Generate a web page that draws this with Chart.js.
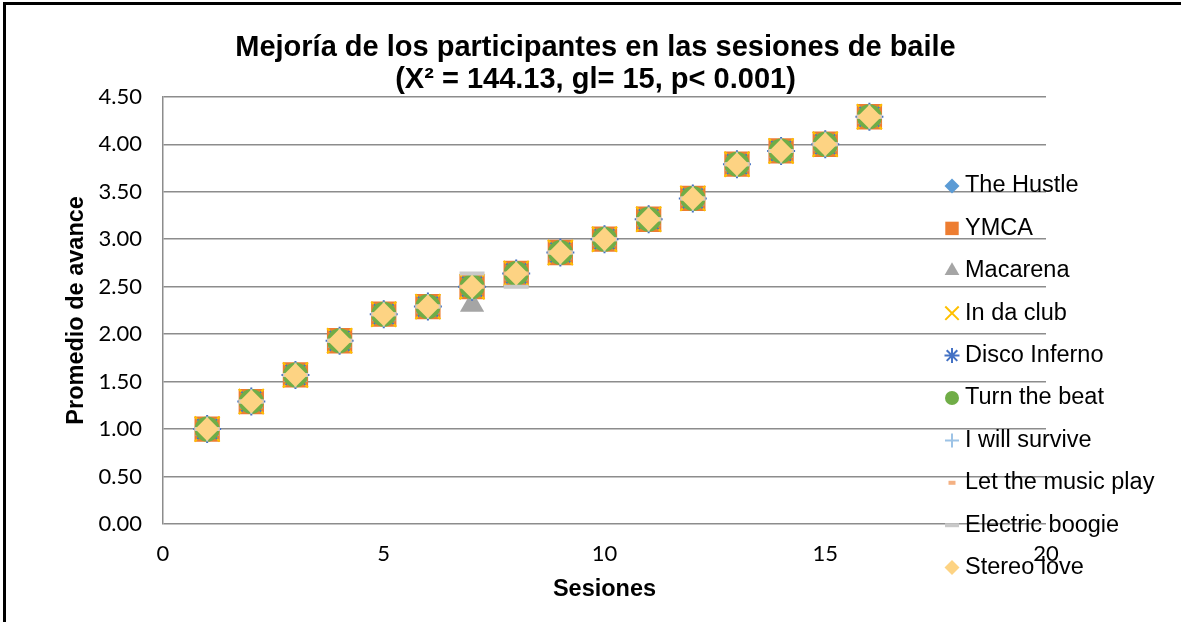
<!DOCTYPE html>
<html>
<head>
<meta charset="utf-8">
<script src="https://cdn.jsdelivr.net/npm/chart.js@4.4.0/dist/chart.umd.min.js"></script>
<style>
  html, body { margin: 0; padding: 0; background: #fff; overflow: hidden; }
  #wrap { position: relative; width: 1181px; height: 622px; }
  #frame {
    position: absolute; left: 3px; top: 2px; width: 1178px; height: 620px;
    border-left: 3px solid #000; border-top: 3px solid #000;
    pointer-events: none;
  }
</style>
</head>
<body>
<div id="wrap">
  <canvas id="chart" width="1181" height="622"></canvas>
  <div id="frame"></div>
</div>
<script>
'use strict'

// sessions (x) and the average progress of each song (y)
const sessions = [1, 2, 3, 4, 5, 6, 7, 8, 9, 10, 11, 12, 13, 14, 15, 16]

const theHustle       = [1.00, 1.29, 1.57, 1.93, 2.21, 2.29, 2.50, 2.64, 2.86, 3.00, 3.21, 3.43, 3.79, 3.93, 4.00, 4.29]
const ymca            = [1.00, 1.29, 1.57, 1.93, 2.21, 2.29, 2.50, 2.64, 2.86, 3.00, 3.21, 3.43, 3.79, 3.93, 4.00, 4.29]
const macarena        = [1.00, 1.29, 1.57, 1.93, 2.21, 2.29, 2.31, 2.64, 2.86, 3.00, 3.21, 3.43, 3.79, 3.93, 4.00, 4.29]
const inDaClub        = [1.00, 1.29, 1.57, 1.93, 2.21, 2.29, 2.50, 2.64, 2.86, 3.00, 3.21, 3.43, 3.79, 3.93, 4.00, 4.29]
const discoInferno    = [1.00, 1.29, 1.57, 1.93, 2.21, 2.29, 2.50, 2.64, 2.86, 3.00, 3.21, 3.43, 3.79, 3.93, 4.00, 4.29]
const turnTheBeat     = [1.00, 1.29, 1.57, 1.93, 2.21, 2.29, 2.50, 2.64, 2.86, 3.00, 3.21, 3.43, 3.79, 3.93, 4.00, 4.29]
const iWillSurvive    = [1.00, 1.29, 1.57, 1.93, 2.21, 2.29, 2.50, 2.64, 2.86, 3.00, 3.21, 3.43, 3.79, 3.93, 4.00, 4.29]
const letTheMusicPlay = [1.00, 1.29, 1.57, 1.93, 2.21, 2.29, 2.50, 2.64, 2.86, 3.00, 3.21, 3.43, 3.79, 3.93, 4.00, 4.29]
const electricBoogie  = [1.00, 1.29, 1.57, 1.93, 2.21, 2.29, 2.64, 2.50, 2.86, 3.00, 3.21, 3.43, 3.79, 3.93, 4.00, 4.29]
const stereoLove      = [1.00, 1.29, 1.57, 1.93, 2.21, 2.29, 2.50, 2.64, 2.86, 3.00, 3.21, 3.43, 3.79, 3.93, 4.00, 4.29]

const seriesNames = ['The Hustle', 'YMCA', 'Macarena', 'In da club', 'Disco Inferno',
  'Turn the beat', 'I will survive', 'Let the music play', 'Electric boogie', 'Stereo love']
const seriesValues = [theHustle, ymca, macarena, inDaClub, discoInferno,
  turnTheBeat, iWillSurvive, letTheMusicPlay, electricBoogie, stereoLove]

const titleLines = ['Mejoría de los participantes en las sesiones de baile', '(X² = 144.13, gl= 15, p< 0.001)']
const xTitle = 'Sesiones'
const yTitle = 'Promedio de avance'

// marker look per series: shape, colour, plot radius, legend radius, line width
const markers = [
  { shape: 'rectRot',  color: '#5B9BD5', r: 12,   lr: 7.5, w: 0 },
  { shape: 'rect',     color: '#ED7D31', r: 17.9, lr: 9.5, w: 0 },
  { shape: 'triangle', color: '#A5A5A5', r: 14,   lr: 8.5, w: 0 },
  { shape: 'crossRot', color: '#FFC000', r: 17.7, lr: 9.5, w: 2 },
  { shape: 'star',     color: '#4472C4', r: 14,   lr: 7.5, w: 2 },
  { shape: 'circle',   color: '#70AD47', r: 12.5, lr: 7,   w: 0 },
  { shape: 'cross',    color: '#9DC3E6', r: 12.5, lr: 7,   w: 2 },
  { shape: 'line',     color: '#F4B183', r: 12.5, lr: 3.5, w: 4 },
  { shape: 'line',     color: '#C9C9C9', r: 12.5, lr: 7,   w: 4 },
  { shape: 'rectRot',  color: '#FDD383', r: 12,   lr: 7.5, w: 0 }
]

const gridGrey = '#8c8c8c'
const textFont = '"Liberation Sans", Arial, sans-serif'
const tickFont = 'Lato, "Liberation Sans", sans-serif'

const datasets = seriesNames.map((name, i) => ({
  label: name,
  data: seriesValues[i].map((v, j) => ({ x: sessions[j], y: v })),
  pointStyle: markers[i].shape,
  pointRadius: markers[i].r,
  pointBackgroundColor: markers[i].color,
  pointBorderColor: markers[i].color,
  pointBorderWidth: markers[i].w,
  showLine: false,
  // later series sit on top, like the original
  order: seriesNames.length - i
}))

// legend drawn over the right part of the plot, as in the original
const sideLegend = {
  id: 'sideLegend',
  afterDatasetsDraw(chart, args, opts) {
    const ctx = chart.ctx
    ctx.save()
    ctx.font = opts.font
    ctx.textBaseline = 'middle'
    ctx.textAlign = 'left'
    chart.data.datasets.forEach((ds, i) => {
      const m = markers[i]
      const y = opts.top + i * opts.spacing
      ctx.fillStyle = m.color
      ctx.strokeStyle = m.color
      ctx.lineWidth = m.w
      Chart.helpers.drawPoint(ctx, { pointStyle: m.shape, radius: m.lr, rotation: 0, borderWidth: m.w }, opts.x, y)
      ctx.fillStyle = '#000'
      ctx.fillText(ds.label, opts.textX, y)
    })
    ctx.restore()
  }
}

new Chart(document.getElementById('chart'), {
  type: 'scatter',
  data: { datasets: datasets },
  plugins: [sideLegend],
  options: {
    responsive: false,
    animation: false,
    events: [],
    layout: { padding: { left: 10, right: 0, top: 0, bottom: 0 } },
    plugins: {
      legend: { display: false },
      tooltip: { enabled: false },
      title: {
        display: true,
        text: titleLines,
        color: '#000',
        font: { family: textFont, size: 29, weight: 'bold', lineHeight: 1.1 },
        padding: { top: 32, bottom: 1 }
      },
      sideLegend: {
        font: '23.5px ' + textFont,
        x: 952,
        textX: 965,
        top: 186,
        spacing: 42.4
      }
    },
    scales: {
      x: {
        type: 'linear',
        min: 0,
        max: 20,
        grid: { display: false, drawTicks: false },
        border: { display: false },
        ticks: { stepSize: 5, padding: 17, color: '#000', font: { family: tickFont, size: 22 } },
        title: {
          display: true,
          text: xTitle,
          color: '#000',
          font: { family: textFont, size: 23.5, weight: 'bold', lineHeight: 1.2 },
          padding: { top: 0, bottom: 18 }
        },
        afterFit(scale) {
          scale.height = 98
          scale.paddingRight = 135
        }
      },
      y: {
        min: 0,
        max: 4.5,
        grid: { color: gridGrey, lineWidth: 1.5, drawTicks: false },
        border: { display: true, color: gridGrey, width: 1.5 },
        ticks: {
          stepSize: 0.5,
          padding: 21,
          color: '#000',
          font: { family: tickFont, size: 22 },
          callback: v => v.toFixed(2)
        },
        title: {
          display: true,
          text: yTitle,
          color: '#000',
          font: { family: textFont, size: 23.5, weight: 'bold', lineHeight: 1.2 },
          padding: { top: 52, bottom: 0 }
        },
        afterFit(scale) {
          scale.width = 153
        }
      }
    }
  }
})
</script>
</body>
</html>
